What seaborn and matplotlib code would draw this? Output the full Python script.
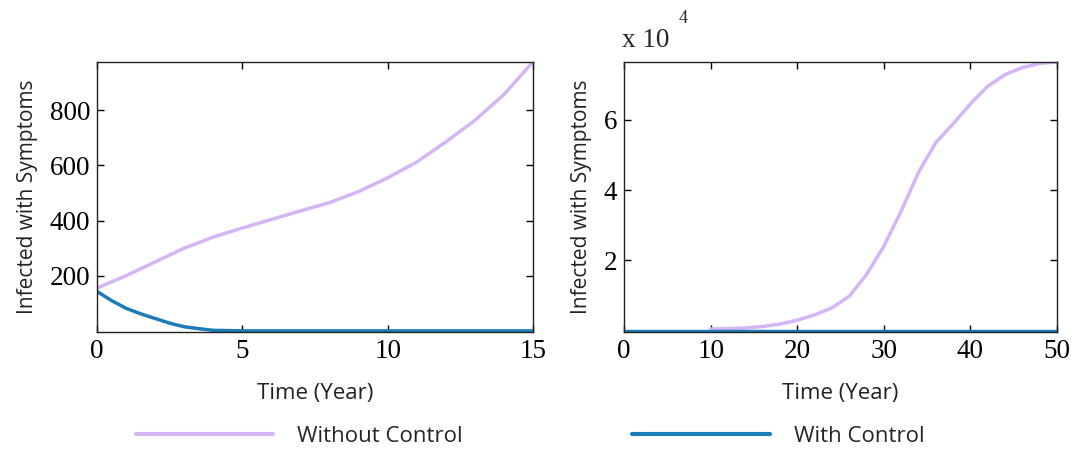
import matplotlib
matplotlib.use("Agg")
import matplotlib.pyplot as plt
import seaborn as sns
import pandas as pd
from matplotlib.ticker import FuncFormatter

# ---- data ----
t_left_wo = [0, 1, 2, 3, 4, 5, 6, 7, 8, 9, 10, 11, 12, 13, 14, 15]
y_left_wo = [155, 200, 250, 300, 340, 373, 404, 435, 465, 505, 555, 612, 685, 763, 857, 975]
t_left_w = [0, 0.5, 1, 1.5, 2, 2.5, 3, 3.5, 4, 5, 10, 15]
y_left_w = [143, 110, 82, 62, 45, 28, 15, 8, 2, 0, 0, 0]

t_right_wo = [10, 12, 14, 16, 18, 20, 22, 24, 26, 28, 30, 32, 34, 36, 38, 40,
              42, 44, 46, 48, 50]
y_right_wo = [500, 600, 800, 1200, 1900, 3000, 4500, 6500, 9800, 16000, 24000, 34000,
              45000, 53500, 58800, 64500, 69500, 72800, 74800, 76000, 76400]
t_right_w = [0, 10, 20, 30, 40, 50]
y_right_w = [0, 0, 0, 0, 0, 0]

left_xticks = [0, 5, 10, 15]
left_yticks = [200, 400, 600, 800]
right_xticks = [0, 10, 20, 30, 40, 50]
right_yticks = [20000, 40000, 60000]

series_names = ["Without Control", "With Control"]
colors = {"Without Control": "#d4b5f5", "With Control": "#1b7db8"}

# ---- styling ----
sns.set_theme(style="ticks")
plt.rcParams["font.family"] = ["Open Sans", "DejaVu Sans"]

fig = plt.figure(figsize=(10.75, 4.51), dpi=100)
axL = fig.add_axes([0.0902, 0.2639, 0.4056, 0.5987])
axR = fig.add_axes([0.5805, 0.2639, 0.4028, 0.5987])

dfL = pd.concat([
    pd.DataFrame({"t": t_left_wo, "y": y_left_wo, "s": series_names[0]}),
    pd.DataFrame({"t": t_left_w, "y": y_left_w, "s": series_names[1]}),
])
dfR = pd.concat([
    pd.DataFrame({"t": t_right_wo, "y": y_right_wo, "s": series_names[0]}),
    pd.DataFrame({"t": t_right_w, "y": y_right_w, "s": series_names[1]}),
])

TICK_FS = 19.5
YLAB_FS = 15
XLAB_FS = 16

for ax, df in [(axL, dfL), (axR, dfR)]:
    sns.lineplot(data=df, x="t", y="y", hue="s", palette=colors, linewidth=2.5,
                 ax=ax, legend=False, estimator=None, sort=False)
    ax.tick_params(direction="in", top=True, right=True, length=5, width=1,
                   colors="black", labelsize=TICK_FS, pad=5)
    for sp in ax.spines.values():
        sp.set_color("#222222")
        sp.set_linewidth(1.0)
        sp.set_visible(True)
    ax.set_xlabel("Time (Year)", fontsize=XLAB_FS, labelpad=14, color="#222222")
    ax.set_ylabel("Infected with Symptoms", fontsize=YLAB_FS, labelpad=8, color="#222222")

axL.set_xlim(0, 15)
axL.set_ylim(-4, 975)
axL.set_xticks(left_xticks)
axL.set_yticks(left_yticks)

axR.set_xlim(0, 50)
axR.set_ylim(-350, 76400)
axR.set_xticks(right_xticks)
axR.set_yticks(right_yticks)
axR.yaxis.set_major_formatter(FuncFormatter(lambda v, p: f"{v/1e4:g}"))

for ax in (axL, axR):
    for lab in ax.get_xticklabels() + ax.get_yticklabels():
        lab.set_family("Liberation Serif")
        lab.set_fontsize(TICK_FS)

axR.text(-0.005, 1.035, "x 10", transform=axR.transAxes, fontsize=TICK_FS,
         family="Liberation Serif", ha="left", va="bottom")
axR.text(0.125, 1.13, "4", transform=axR.transAxes, fontsize=13,
         family="Liberation Serif", ha="left", va="bottom")

# legend
handles = [plt.Line2D([], [], color=colors[n], linewidth=3) for n in series_names]
fig.legend(handles, series_names, loc="center", bbox_to_anchor=(0.493, 0.033),
           ncol=2, frameon=False, fontsize=XLAB_FS, handlelength=6.2, handletextpad=1.08,
           columnspacing=7.6)

fig.savefig("out.png", dpi=100)
